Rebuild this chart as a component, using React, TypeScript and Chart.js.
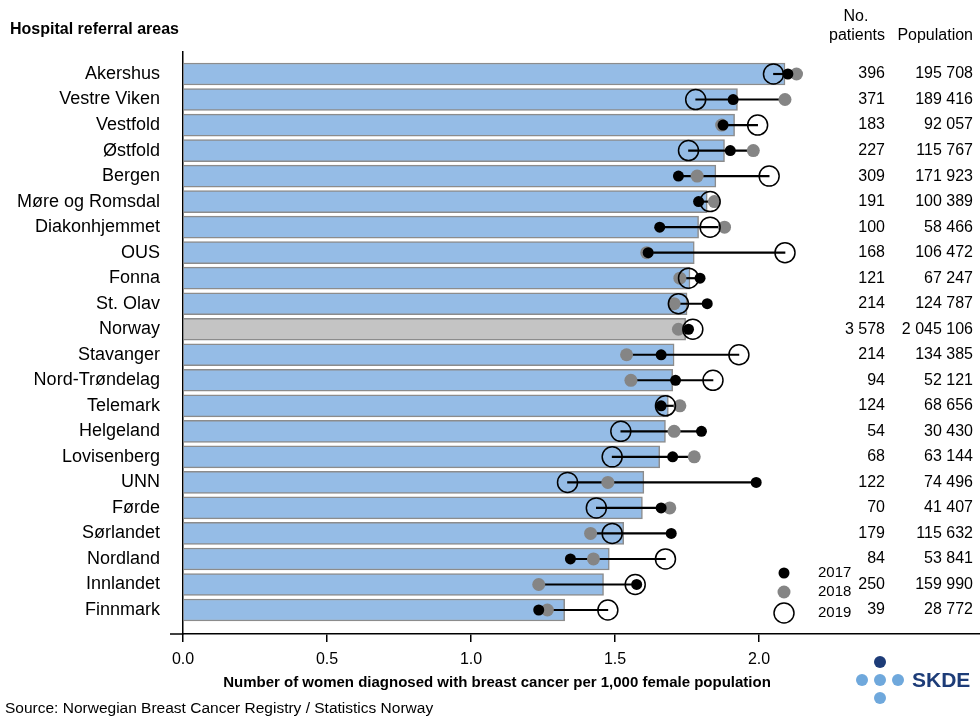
import React, { useEffect, useRef } from 'react';
import { Chart, registerables } from 'chart.js';

Chart.register(...registerables);

const FONT = '"Liberation Sans", Arial, Helvetica, sans-serif';

const areas = [
  'Akershus', 'Vestre Viken', 'Vestfold', 'Østfold', 'Bergen', 'Møre og Romsdal',
  'Diakonhjemmet', 'OUS', 'Fonna', 'St. Olav', 'Norway', 'Stavanger',
  'Nord-Trøndelag', 'Telemark', 'Helgeland', 'Lovisenberg', 'UNN', 'Førde',
  'Sørlandet', 'Nordland', 'Innlandet', 'Finnmark',
];
const rate = [
  2.09, 1.925, 1.915, 1.88, 1.85, 1.82, 1.79, 1.775, 1.76, 1.75, 1.745, 1.705,
  1.7, 1.685, 1.675, 1.655, 1.6, 1.595, 1.53, 1.48, 1.46, 1.325,
];
const y2017 = [
  2.1, 1.91, 1.875, 1.9, 1.72, 1.79, 1.655, 1.615, 1.795, 1.82, 1.755, 1.66,
  1.71, 1.66, 1.8, 1.7, 1.99, 1.66, 1.695, 1.345, 1.575, 1.235,
];
const y2018 = [
  2.13, 2.09, 1.87, 1.98, 1.785, 1.845, 1.88, 1.61, 1.725, 1.705, 1.72, 1.54,
  1.555, 1.725, 1.705, 1.775, 1.475, 1.69, 1.415, 1.425, 1.235, 1.265,
];
const y2019 = [
  2.05, 1.78, 1.995, 1.755, 2.035, 1.83, 1.83, 2.09, 1.755, 1.72, 1.77, 1.93,
  1.84, 1.675, 1.52, 1.49, 1.335, 1.435, 1.49, 1.675, 1.57, 1.475,
];
const patients = [
  '396', '371', '183', '227', '309', '191', '100', '168', '121', '214', '3 578', '214',
  '94', '124', '54', '68', '122', '70', '179', '84', '250', '39',
];
const population = [
  '195 708', '189 416', '92 057', '115 767', '171 923', '100 389', '58 466', '106 472',
  '67 247', '124 787', '2 045 106', '134 385', '52 121', '68 656', '30 430', '63 144',
  '74 496', '41 407', '115 632', '53 841', '159 990', '28 772',
];
const xTicks = [0, 0.5, 1, 1.5, 2];
const years = ['2017', '2018', '2019'];

export default function App() {
  const ref = useRef<HTMLCanvasElement>(null);

  useEffect(() => {
    document.body.style.margin = '0';
    const canvas = ref.current;
    if (!canvas) return;
    const idx = areas.map((_, i) => i);
    const rangeData = idx.map((i) => {
      const v = [y2017[i], y2018[i], y2019[i]];
      return { x: [Math.min(...v), Math.max(...v)], y: i };
    });

    const overlay = {
      id: 'overlay',
      afterDraw(chart: any) {
        const c = chart.ctx;
        const area = chart.chartArea;
        const ys = chart.scales.y;
        c.save();
        c.strokeStyle = '#000';
        c.lineWidth = 1.5;
        c.beginPath();
        c.moveTo(170, area.bottom);
        c.lineTo(area.left, area.bottom);
        c.stroke();

        c.fillStyle = '#000';
        c.textBaseline = 'middle';
        c.font = `bold 16px ${FONT}`;
        c.textAlign = 'left';
        c.fillText('Hospital referral areas', 10, 30);
        c.font = `16px ${FONT}`;
        c.textAlign = 'center';
        c.fillText('No.', 856, 17);
        c.fillText('patients', 857, 36);
        c.textAlign = 'right';
        c.fillText('Population', 973, 36);
        idx.forEach((i) => {
          const y = ys.getPixelForValue(i);
          c.fillText(patients[i], 885, y);
          c.fillText(population[i], 973, y);
        });
        // legend
        const lx = 784;
        const ly = [573, 592, 613];
        c.beginPath();
        c.arc(lx, ly[0], 5.5, 0, Math.PI * 2);
        c.fillStyle = '#000';
        c.fill();
        c.beginPath();
        c.arc(lx, ly[1], 6.5, 0, Math.PI * 2);
        c.fillStyle = '#858585';
        c.fill();
        c.beginPath();
        c.arc(lx, ly[2], 10, 0, Math.PI * 2);
        c.strokeStyle = '#000';
        c.lineWidth = 1.5;
        c.stroke();
        c.fillStyle = '#000';
        c.font = `15px ${FONT}`;
        c.textAlign = 'left';
        years.forEach((t, k) => c.fillText(t, 818, ly[k]));
        // axis title & source
        c.font = `bold 15px ${FONT}`;
        c.textAlign = 'center';
        c.fillText('Number of women diagnosed with breast cancer per 1,000 female population', 497, 683);
        c.font = `15.5px ${FONT}`;
        c.textAlign = 'left';
        c.fillText('Source: Norwegian Breast Cancer Registry / Statistics Norway', 5, 709);
        // logo
        c.fillStyle = '#1d3c78';
        c.beginPath();
        c.arc(880, 662, 6, 0, Math.PI * 2);
        c.fill();
        c.fillStyle = '#6fa8dc';
        [[862, 680], [880, 680], [898, 680], [880, 698]].forEach(([x, y]) => {
          c.beginPath();
          c.arc(x, y, 6, 0, Math.PI * 2);
          c.fill();
        });
        c.fillStyle = '#1d3c78';
        c.font = `bold 21px ${FONT}`;
        c.textAlign = 'left';
        c.fillText('SKDE', 912, 681);
        c.restore();
      },
    };

    const chart = new Chart(canvas, {
      type: 'bar',
      data: {
        datasets: [
          {
            type: 'scatter',
            label: '2019',
            data: idx.map((i) => ({ x: y2019[i], y: i })),
            pointRadius: 10,
            pointBackgroundColor: 'rgba(0,0,0,0)',
            pointBorderColor: '#000',
            pointBorderWidth: 1.5,
            order: 1,
          } as any,
          {
            type: 'scatter',
            label: '2017',
            data: idx.map((i) => ({ x: y2017[i], y: i })),
            pointRadius: 5.5,
            pointBackgroundColor: '#000',
            pointBorderWidth: 0,
            order: 2,
          },
          {
            type: 'scatter',
            label: '2018',
            data: idx.map((i) => ({ x: y2018[i], y: i })),
            pointRadius: 6.5,
            pointBackgroundColor: '#858585',
            pointBorderWidth: 0,
            order: 3,
          },
          {
            type: 'bar',
            label: 'range',
            data: rangeData as any,
            backgroundColor: '#000',
            barThickness: 1.5,
            grouped: false,
            order: 4,
          } as any,
          {
            type: 'bar',
            label: 'rate',
            data: idx.map((i) => ({ x: rate[i], y: i })) as any,
            backgroundColor: idx.map((i) => (areas[i] === 'Norway' ? '#c4c4c4' : '#95bce6')),
            borderColor: '#8c8c8c',
            borderWidth: 1.5,
            barThickness: 22,
            grouped: false,
            order: 5,
          } as any,
        ],
      },
      options: {
        indexAxis: 'y',
        responsive: false,
        animation: false,
        layout: { autoPadding: false, padding: { top: 52, left: 0, right: 0, bottom: 0 } },
        plugins: { legend: { display: false }, tooltip: { enabled: false } },
        scales: {
          x: {
            type: 'linear',
            min: 0,
            max: 2.767,
            offset: false,
            afterBuildTicks: (s: any) => {
              s.ticks = xTicks.map((v) => ({ value: v }));
            },
            afterFit: (s: any) => {
              s.height = 86;
            },
            ticks: {
              callback: (v: any) => Number(v).toFixed(1),
              color: '#000',
              font: { family: FONT, size: 16 },
              padding: 8,
              maxRotation: 0,
              autoSkip: false,
            },
            grid: { drawOnChartArea: false, drawTicks: true, tickLength: 8, color: '#000', lineWidth: 1.5 },
            border: { display: true, color: '#000', width: 1.5 },
          },
          y: {
            type: 'linear',
            reverse: true,
            offset: false,
            min: -0.862,
            max: 21.94,
            afterBuildTicks: (s: any) => {
              s.ticks = idx.map((v) => ({ value: v }));
            },
            afterFit: (s: any) => {
              s.width = 183;
            },
            ticks: {
              callback: (v: any) => areas[v],
              color: '#000',
              font: { family: FONT, size: 18 },
              padding: 23,
              autoSkip: false,
            },
            grid: { display: false, drawTicks: false },
            border: { display: true, color: '#000', width: 1.5 },
          },
        },
      } as any,
      plugins: [overlay],
    });
    return () => chart.destroy();
  }, []);

  return <canvas ref={ref} width={980} height={720} style={{ display: 'block' }} />;
}
